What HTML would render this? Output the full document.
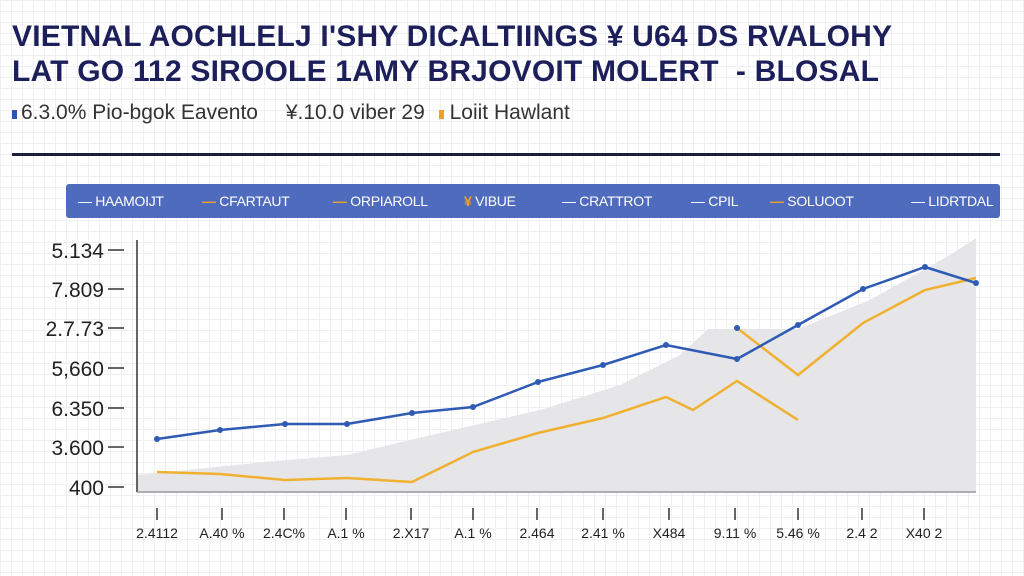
<!DOCTYPE html>
<html><head><style>
body{margin:0;width:1024px;height:576px;overflow:hidden;font-family:"Liberation Sans",sans-serif;
background-color:#fff;background-image:linear-gradient(#eef0f3 1px,transparent 1px),linear-gradient(90deg,#eef0f3 1px,transparent 1px);background-size:11px 11px;position:relative}
.t{position:absolute;left:12px;font-weight:bold;color:#1c1f5a;font-size:30px;letter-spacing:0.2px;white-space:nowrap}
</style></head><body>
<div class="t" style="top:20px">VIETNAL AOCHLELJ I'SHY DICALTIINGS ¥ U64 DS RVALOHY</div>
<div class="t" style="top:55px">LAT GO 112 SIROOLE 1AMY BRJOVOIT MOLERT &nbsp;- BLOSAL</div>
<div style="position:absolute;top:101px;left:12px;font-size:21px;color:#333;white-space:nowrap">
<span style="display:inline-block;width:5px;height:9px;background:#2a56b0;margin-right:4px"></span>6.3.0% Pio-bgok Eavento
<span style="margin-left:22px">¥.10.0 viber 29</span>
<span style="display:inline-block;width:5px;height:9px;background:#f0a020;margin:0 6px 0 8px"></span>Loiit Hawlant</div>
<div style="position:absolute;top:153px;left:12px;width:988px;height:3px;background:#1c1f3a"></div>
<div style="position:absolute;top:184px;left:66px;width:934px;height:34px;background:#4e6bbd;border-radius:3px;color:#fff;font-size:14px;letter-spacing:-0.3px;white-space:nowrap;line-height:34px;overflow:hidden">
<span style="position:absolute;left:12px">— HAAMOIJT</span>
<span style="position:absolute;left:136px"><b style="color:#f0a020">—</b> CFARTAUT</span>
<span style="position:absolute;left:267px"><b style="color:#f0a020">—</b> ORPIAROLL</span>
<span style="position:absolute;left:398px"><b style="color:#f0a020">¥</b> VIBUE</span>
<span style="position:absolute;left:496px">— CRATTROT</span>
<span style="position:absolute;left:625px">— CPIL</span>
<span style="position:absolute;left:704px"><b style="color:#f0a020">—</b> SOLUOOT</span>
<span style="position:absolute;left:845px">— LIDRTDAL</span>
</div>
<svg width="1024" height="576" style="position:absolute;left:0;top:0">
<polygon points="137,475 265,462 347,455 410,440 540,410 620,385 680,355 708,329 798,329 870,300 950,255 976,238 976,492 137,492" fill="#e6e6e8"/>
<g stroke="#333" stroke-width="1.5">
<line x1="137" y1="240" x2="137" y2="492"/><line x1="137" y1="492" x2="976" y2="492" stroke="#999"/>
<line x1="108" y1="250" x2="124" y2="250"/><line x1="108" y1="289" x2="124" y2="289"/><line x1="108" y1="328" x2="124" y2="328"/><line x1="108" y1="368" x2="124" y2="368"/><line x1="108" y1="408" x2="124" y2="408"/><line x1="108" y1="447" x2="124" y2="447"/><line x1="108" y1="487" x2="124" y2="487"/>
</g>
<g stroke="#333" stroke-width="1.5">
<line x1="157" y1="508" x2="157" y2="520"/><line x1="222" y1="508" x2="222" y2="520"/><line x1="284" y1="508" x2="284" y2="520"/><line x1="346" y1="508" x2="346" y2="520"/><line x1="411" y1="508" x2="411" y2="520"/><line x1="473" y1="508" x2="473" y2="520"/><line x1="537" y1="508" x2="537" y2="520"/><line x1="603" y1="508" x2="603" y2="520"/><line x1="669" y1="508" x2="669" y2="520"/><line x1="735" y1="508" x2="735" y2="520"/><line x1="798" y1="508" x2="798" y2="520"/><line x1="862" y1="508" x2="862" y2="520"/><line x1="924" y1="508" x2="924" y2="520"/>
</g>
<g font-size="21" fill="#222" text-anchor="end">
<text x="104" y="258">5.134</text><text x="104" y="297">7.809</text><text x="104" y="336">2.7.73</text><text x="104" y="376">5,660</text><text x="104" y="416">6.350</text><text x="104" y="455">3.600</text><text x="104" y="495">400</text>
</g>
<g font-size="14" fill="#222" text-anchor="middle">
<text x="157" y="538">2.4112</text><text x="222" y="538">A.40 %</text><text x="284" y="538">2.4C%</text><text x="346" y="538">A.1 %</text><text x="411" y="538">2.X17</text><text x="473" y="538">A.1 %</text><text x="537" y="538">2.464</text><text x="603" y="538">2.41 %</text><text x="669" y="538">X484</text><text x="735" y="538">9.11 %</text><text x="798" y="538">5.46 %</text><text x="862" y="538">2.4 2</text><text x="924" y="538">X40 2</text>
</g>
<polyline fill="none" stroke="#f0b030" stroke-width="2.5" points="157,472 220,474 285,480 347,478 412,482 473,452 538,433 603,418 666,397 693,410 737,381 798,420"/>
<polyline fill="none" stroke="#f0b030" stroke-width="2.5" points="737,328 798,375 863,323 925,290 976,278"/>
<polyline fill="none" stroke="#2f5bb5" stroke-width="2.5" points="157,439 220,430 285,424 347,424 412,413 473,407 538,382 603,365 666,345 737,359 798,325 863,289 925,267 976,283"/>
<g fill="#2f5bb5"><circle cx="157" cy="439" r="3"/><circle cx="220" cy="430" r="3"/><circle cx="285" cy="424" r="3"/><circle cx="347" cy="424" r="3"/><circle cx="412" cy="413" r="3"/><circle cx="473" cy="407" r="3"/><circle cx="538" cy="382" r="3"/><circle cx="603" cy="365" r="3"/><circle cx="666" cy="345" r="3"/><circle cx="737" cy="359" r="3"/><circle cx="798" cy="325" r="3"/><circle cx="863" cy="289" r="3"/><circle cx="925" cy="267" r="3"/><circle cx="976" cy="283" r="3"/><circle cx="737" cy="328" r="3"/></g>
</svg>
</body></html>
